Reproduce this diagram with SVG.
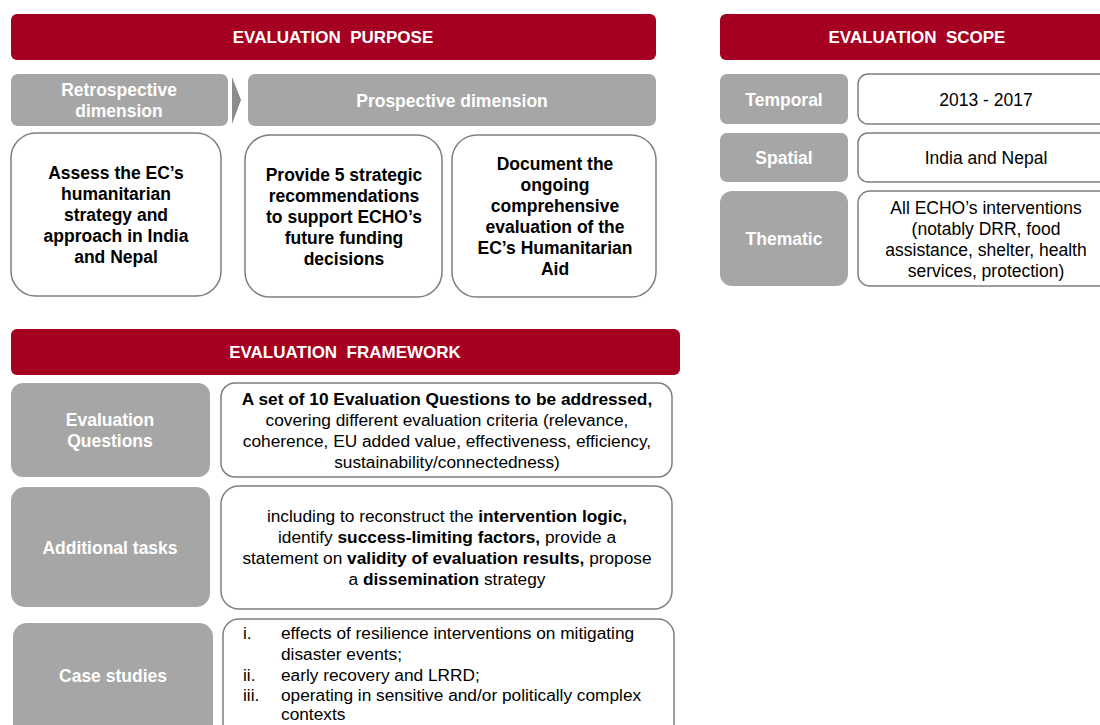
<svg xmlns="http://www.w3.org/2000/svg" width="1100" height="725" viewBox="0 0 1100 725">
<style>
.hdr{fill:#A50021}
.gray{fill:#A6A6A6}
.box{fill:#FFFFFF;stroke:#7F7F7F;stroke-width:1.5}
text{font-family:"Liberation Sans",Arial,sans-serif;font-size:17.5px;text-anchor:middle}
.ht{fill:#FFFFFF;font-weight:bold;font-size:17px}
.gt{fill:#FFFFFF;font-weight:bold}
.bt{fill:#000000;font-weight:bold}
.rt{fill:#000000}
.ft{fill:#000000;font-size:17.3px}
.lt{fill:#000000;font-size:17.3px;text-anchor:start}
</style>
<rect width="1100" height="725" fill="#FFFFFF"/>

<g id="purpose-header">
<rect class="hdr" x="11" y="14" width="645" height="46" rx="6"/>
<text class="ht" x="333" y="43" xml:space="preserve">EVALUATION  PURPOSE</text>
</g>
<g id="retrospective">
<rect class="gray" x="11" y="74" width="217" height="52" rx="7"/>
<text class="gt" x="119" y="96">Retrospective</text>
<text class="gt" x="119" y="117">dimension</text>
</g>
<g id="chevron">
<polygon points="232,77 241,100 232,124" fill="#8C8C8C"/>
</g>
<g id="prospective">
<rect class="gray" x="248" y="74" width="408" height="52" rx="7"/>
<text class="gt" x="452" y="107">Prospective dimension</text>
</g>
<g id="assess">
<rect class="box" x="11" y="133" width="210" height="163" rx="25"/>
<text class="bt" x="116" y="179">Assess the EC’s</text>
<text class="bt" x="116" y="200">humanitarian</text>
<text class="bt" x="116" y="221">strategy and</text>
<text class="bt" x="116" y="242">approach in India</text>
<text class="bt" x="116" y="263">and Nepal</text>
</g>
<g id="provide">
<rect class="box" x="245" y="135" width="197" height="162" rx="25"/>
<text class="bt" x="344" y="181">Provide 5 strategic</text>
<text class="bt" x="344" y="202">recommendations</text>
<text class="bt" x="344" y="223">to support ECHO’s</text>
<text class="bt" x="344" y="244">future funding</text>
<text class="bt" x="344" y="265">decisions</text>
</g>
<g id="document">
<rect class="box" x="452" y="135" width="204" height="162" rx="25"/>
<text class="bt" x="555" y="170">Document the</text>
<text class="bt" x="555" y="191">ongoing</text>
<text class="bt" x="555" y="212">comprehensive</text>
<text class="bt" x="555" y="233">evaluation of the</text>
<text class="bt" x="555" y="254">EC’s Humanitarian</text>
<text class="bt" x="555" y="275">Aid</text>
</g>

<g id="scope-header">
<rect class="hdr" x="720" y="14" width="400" height="46" rx="6"/>
<text class="ht" x="917" y="43" xml:space="preserve">EVALUATION  SCOPE</text>
</g>
<g id="temporal">
<rect class="gray" x="720" y="74" width="128" height="50" rx="7"/>
<text class="gt" x="784" y="106">Temporal</text>
</g>
<g id="temporal-value">
<rect class="box" x="858" y="74" width="260" height="50" rx="10"/>
<text class="rt" x="986" y="106">2013 - 2017</text>
</g>
<g id="spatial">
<rect class="gray" x="720" y="133" width="128" height="49" rx="7"/>
<text class="gt" x="784" y="164">Spatial</text>
</g>
<g id="spatial-value">
<rect class="box" x="858" y="133" width="260" height="49" rx="10"/>
<text class="rt" x="986" y="164">India and Nepal</text>
</g>
<g id="thematic">
<rect class="gray" x="720" y="191" width="128" height="95" rx="12"/>
<text class="gt" x="784" y="245">Thematic</text>
</g>
<g id="thematic-value">
<rect class="box" x="858" y="191" width="260" height="95" rx="12"/>
<text class="rt" x="986" y="214">All ECHO’s interventions</text>
<text class="rt" x="986" y="235">(notably DRR, food</text>
<text class="rt" x="986" y="256">assistance, shelter, health</text>
<text class="rt" x="986" y="277">services, protection)</text>
</g>

<g id="framework-header">
<rect class="hdr" x="11" y="329" width="669" height="46" rx="6"/>
<text class="ht" x="345" y="358" xml:space="preserve">EVALUATION  FRAMEWORK</text>
</g>
<g id="eq">
<rect class="gray" x="11" y="383" width="199" height="94" rx="12"/>
<text class="gt" x="110" y="426">Evaluation</text>
<text class="gt" x="110" y="447">Questions</text>
</g>
<g id="eq-text">
<rect class="box" x="221" y="383" width="451" height="94" rx="14"/>
<text class="ft" x="447" y="405" font-weight="bold">A set of 10 Evaluation Questions to be addressed,</text>
<text class="ft" x="447" y="426">covering different evaluation criteria (relevance,</text>
<text class="ft" x="447" y="447">coherence, EU added value, effectiveness, efficiency,</text>
<text class="ft" x="447" y="468">sustainability/connectedness)</text>
</g>
<g id="tasks">
<rect class="gray" x="11" y="487" width="199" height="120" rx="14"/>
<text class="gt" x="110" y="554">Additional tasks</text>
</g>
<g id="tasks-text">
<rect class="box" x="221" y="486" width="451" height="123" rx="18"/>
<text class="ft" x="447" y="522">including to reconstruct the <tspan font-weight="bold">intervention logic,</tspan></text>
<text class="ft" x="447" y="543">identify <tspan font-weight="bold">success-limiting factors,</tspan> provide a</text>
<text class="ft" x="447" y="564">statement on <tspan font-weight="bold">validity of evaluation results,</tspan> propose</text>
<text class="ft" x="447" y="585">a <tspan font-weight="bold">dissemination</tspan> strategy</text>
</g>
<g id="cases">
<rect class="gray" x="13" y="623" width="200" height="120" rx="14"/>
<text class="gt" x="113" y="682">Case studies</text>
</g>
<g id="cases-text">
<rect class="box" x="223" y="619" width="451" height="125" rx="16"/>
<text class="lt" x="243" y="639">i.</text>
<text class="lt" x="281" y="639">effects of resilience interventions on mitigating</text>
<text class="lt" x="281" y="660">disaster events;</text>
<text class="lt" x="243" y="681">ii.</text>
<text class="lt" x="281" y="681">early recovery and LRRD;</text>
<text class="lt" x="243" y="701">iii.</text>
<text class="lt" x="281" y="701">operating in sensitive and/or politically complex</text>
<text class="lt" x="281" y="720">contexts</text>
</g>
</svg>
